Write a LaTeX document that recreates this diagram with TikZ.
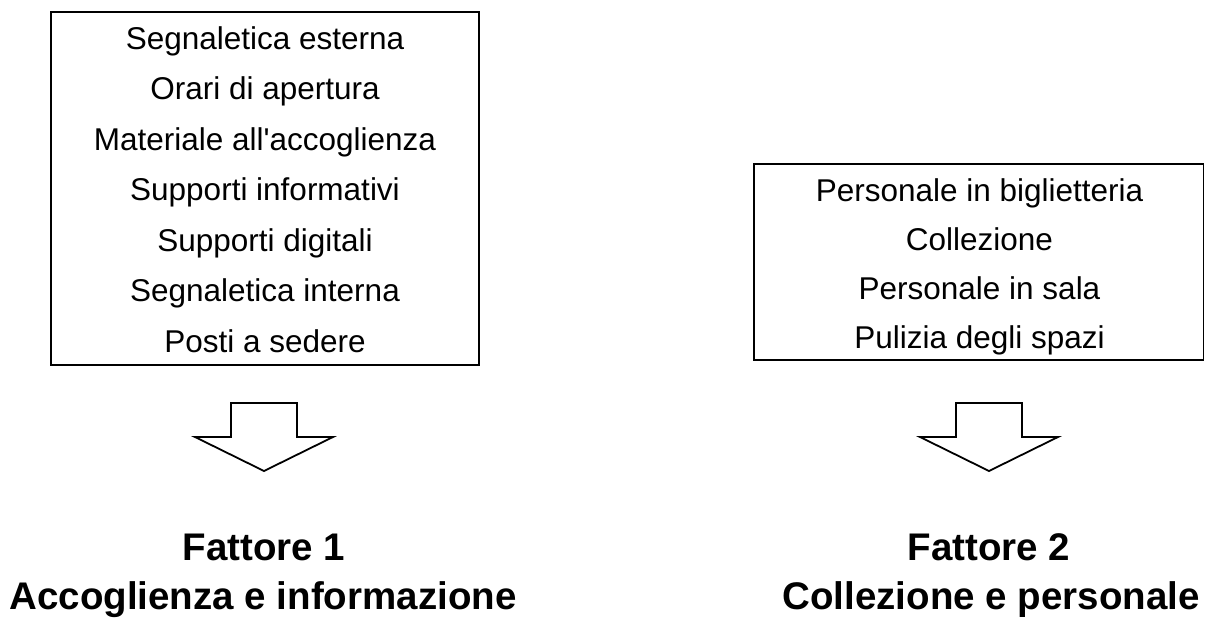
\documentclass[tikz,border=0pt]{standalone}
\usepackage{fontspec}
\setmainfont{Liberation Sans}
\begin{document}
\begin{tikzpicture}[x=1pt,y=-1pt,
  box/.style={draw, line width=1.4pt, inner sep=0pt},
  listtext/.style={align=center, inner sep=0pt, font=\fontsize{31.5}{50.5}\selectfont},
  listtexttwo/.style={align=center, inner sep=0pt, font=\fontsize{31.5}{49}\selectfont},
  factor/.style={anchor=base, inner sep=0pt, font=\bfseries\fontsize{38.5}{46}\selectfont},
  bigarrow/.style={draw, line width=1.8pt, line join=miter},
  blockarrow/.pic={\draw[bigarrow] (-33,0) -- (33,0) -- (33,34) -- (69,34) -- (0,68) -- (-69,34) -- (-33,34) -- cycle;}]
\useasboundingbox (0,0) rectangle (1205,621);
% left box
\node[box, minimum width=428pt, minimum height=353pt] (box1) at (265,188.5) {};
\node[listtext] (list1) at (265,189.5) {Segnaletica esterna\\Orari di apertura\\Materiale all\textquotesingle accoglienza\\Supporti informativi\\Supporti digitali\\Segnaletica interna\\Posti a sedere};
% right box
\node[box, minimum width=449.5pt, minimum height=196pt] (box2) at (978.75,262) {};
\node[listtexttwo] (list2) at (979.5,267) {Personale in biglietteria\\Collezione\\Personale in sala\\Pulizia degli spazi};
% arrows
\coordinate (arr1) at (264,403);
\coordinate (arr2) at (989,403);
\pic at (arr1) {blockarrow};
\pic at (arr2) {blockarrow};
% factor labels
\node[factor] (f1) at (264,560) {Fattore 1};
\node[factor] (f1name) at (263,609) {Accoglienza e informazione};
\node[factor] (f2) at (989,560) {Fattore 2};
\node[factor] (f2name) at (991,609) {Collezione e personale};
\end{tikzpicture}
\end{document}
